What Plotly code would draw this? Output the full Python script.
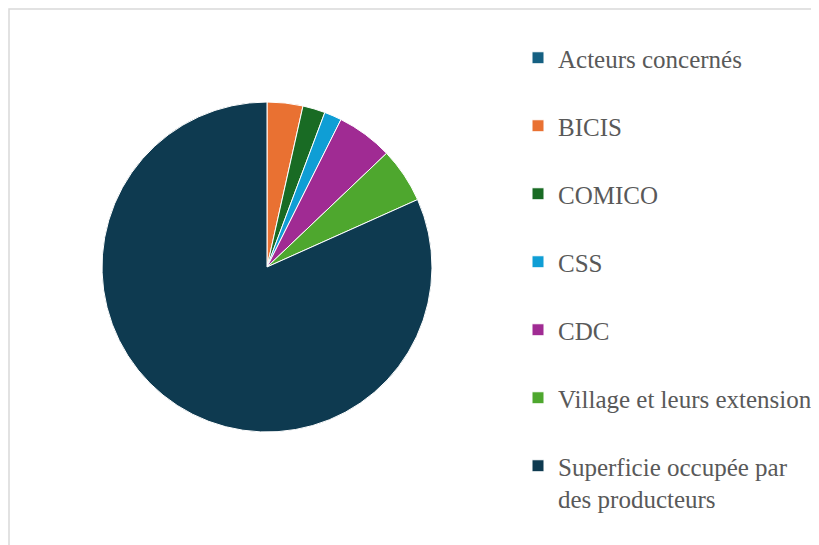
import plotly.graph_objects as go

# Data (share of area, %)
categories = [
    "Acteurs concernés",
    "BICIS",
    "COMICO",
    "CSS",
    "CDC",
    "Village et leurs extension",
    "Superficie occupée par<br>des producteurs",
]
values = [0, 3.5, 2.2, 1.7, 5.5, 5.4, 81.7]
colors = ["#156082", "#E97132", "#196B24", "#0F9ED5", "#A02B93", "#4EA72E", "#0E3A50"]

W, H = 819, 545

# add a blank line under single-line labels to space the legend entries
legend_labels = [c if "<br>" in c else c + "<br> " for c in categories]

cx, cy, r = 259, 286, 165  # pie centre (from left / from bottom) and radius, px

fig = go.Figure(
    go.Pie(
        labels=legend_labels,
        values=values,
        sort=False,
        direction="clockwise",
        rotation=0,
        marker=dict(colors=colors, line=dict(color="white", width=1)),
        textinfo="none",
        hoverinfo="label+value",
        domain=dict(x=[(cx - r) / W, (cx + r) / W],
                    y=[(cy - r) / H, (cy + r) / H]),
    )
)

fig.update_layout(
    width=W,
    height=H,
    margin=dict(l=0, r=0, t=0, b=0),
    paper_bgcolor="white",
    plot_bgcolor="white",
    showlegend=True,
    legend=dict(
        x=510 / W,
        xanchor="left",
        y=1 - 27 / H,
        yanchor="top",
        valign="top",
        font=dict(family="Times New Roman, Liberation Serif, serif", size=25, color="#595959"),
        bgcolor="rgba(0,0,0,0)",
        borderwidth=0,
        traceorder="normal",
    ),
    shapes=[
        dict(type="rect", xref="paper", yref="paper",
             x0=1 / W, x1=1.01, y0=-0.01, y1=1 - 1 / H,
             line=dict(color="#D9D9D9", width=1.5), fillcolor="rgba(0,0,0,0)", layer="below")
    ],
)

fig.write_html("out.html")
